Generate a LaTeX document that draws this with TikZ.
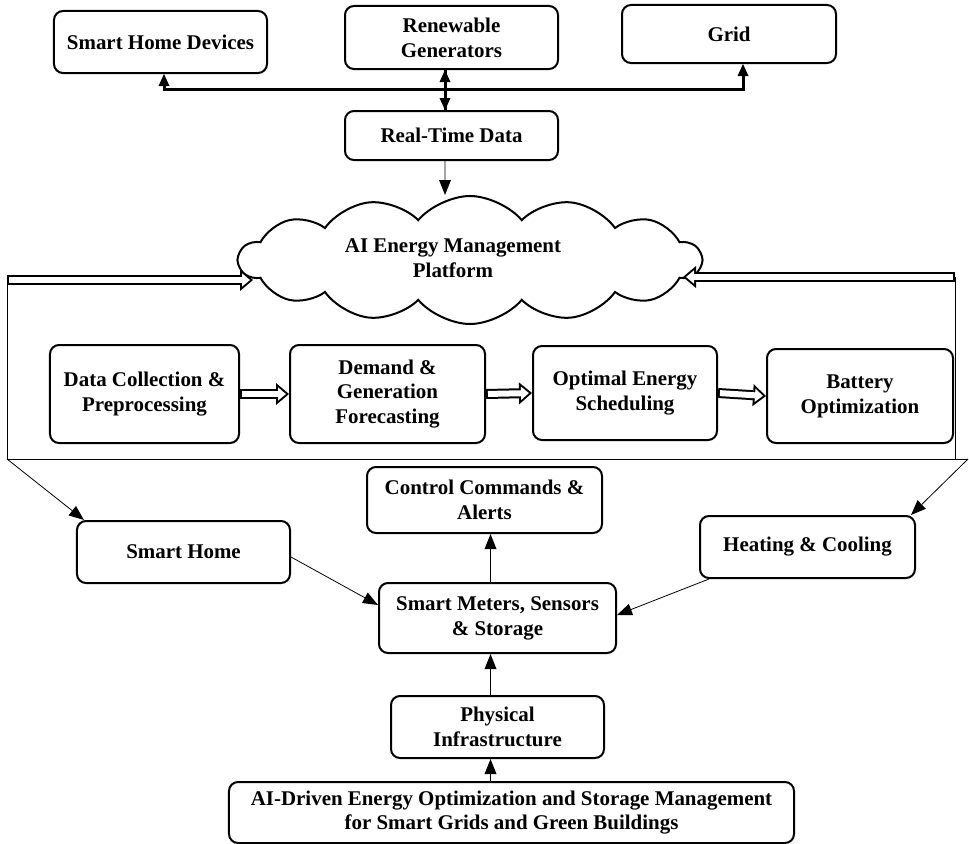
\documentclass[tikz,border=0pt]{standalone}
\usepackage{fontspec}
\setmainfont{Liberation Serif}
\usetikzlibrary{shapes,arrows.meta,positioning}

\newcommand{\hollowarrow}[2]{%
  \draw[line width=10bp,-{Triangle[length=13bp,width=22bp,line width=0pt]}] #1 -- #2;
  \draw[line width=6bp,white,shorten <=2bp,shorten >=3.1bp,
    -{Triangle[length=7.9bp,width=13.4bp,line width=0pt]}] #1 -- #2;}

\begin{document}
\begin{tikzpicture}[x=1bp, y=-1bp,
  txt/.style={align=center, font=\fontsize{21}{25}\selectfont\bfseries},
  box/.style={txt, draw, rounded corners=9bp, line width=2bp, inner sep=0pt},
  conn/.style={line width=0.8bp, -{Triangle[length=15bp,width=12bp,line width=0pt]}},
  bus/.style={line width=3bp},
  tip/.style={-{Triangle[length=12bp,width=11bp,line width=0pt]}},
  frame/.style={line width=0.8bp}]
  \useasboundingbox (0,0) rectangle (969,844);

  \node[box, minimum width=213bp, minimum height=62bp] (shd) at (160.5,42) {Smart Home Devices};
  \node[box, minimum width=213bp, minimum height=63bp] (ren) at (451.5,37.5) {Renewable\\Generators};
  \node[box, minimum width=214bp, minimum height=58bp] (grid) at (729,34) {Grid};
  \node[box, minimum width=213bp, minimum height=49bp, below=40bp of ren] (rtd) {Real-Time Data};

  \node[cloud, draw, line width=2bp, cloud puffs=14, cloud puff arc=100, cloud ignores aspect,
    minimum width=462bp, minimum height=128bp, inner sep=0pt] (cloud) at (470,260) {};
  \node[txt] (ai) at (453,258) {AI Energy Management\\Platform};

  \node[box, minimum width=189bp, minimum height=98bp] (dcp) at (144.5,394) {Data Collection \&\\Preprocessing};
  \node[box, minimum width=195bp, minimum height=98bp] (dgf) at (387.5,394) {Demand \&\\Generation\\Forecasting};
  \node[box, minimum width=184bp, minimum height=94bp] (oes) at (625,393) {Optimal Energy\\Scheduling};
  \node[box, minimum width=186bp, minimum height=94bp] (bo) at (860,396) {Battery\\Optimization};

  \node[box, minimum width=235bp, minimum height=66bp] (ctrl) at (484.5,500) {Control Commands \&\\Alerts};
  \node[box, minimum width=213bp, minimum height=62bp] (sh) at (183.5,552) {Smart Home};
  \node[box, minimum width=215bp, minimum height=62bp] (hc) at (807.5,547) {Heating \& Cooling};
  \node[box, minimum width=237bp, minimum height=70bp] (smt) at (497.5,618) {Smart Meters, Sensors\\\& Storage};
  \node[box, minimum width=213bp, minimum height=62bp, below=41bp of smt] (phy) {Physical\\Infrastructure};
  \node[box, minimum width=565bp, minimum height=61bp] (goal) at (511.5,812.5)
    {AI-Driven Energy Optimization and Storage Management\\for Smart Grids and Green Buildings};

  \coordinate (hub) at (445,89);
  \coordinate (lt) at (7,280);
  \coordinate (rt) at (955,277);
  \coordinate (lb) at (7,459);
  \coordinate (rb) at (968,459);

  \draw[bus, tip] (hub) -| ([xshift=3.5bp]shd.south);
  \draw[bus, tip] (hub) -| ([xshift=14bp]grid.south);
  \draw[bus, tip] ([xshift=-6.5bp]rtd.north) -- ([xshift=-6.5bp]ren.south);
  \draw[bus, tip] ([xshift=-6.5bp]ren.south) -- ([xshift=-6.5bp]rtd.north);
  \draw[conn] ([xshift=-6.5bp]rtd.south) -- (445,195);

  \hollowarrow{(lt)}{(253,280)}
  \hollowarrow{(rt)}{(683,277)}
  \hollowarrow{(dcp.east)}{(dgf.west)}
  \hollowarrow{(dgf.east)}{(oes.west)}
  \hollowarrow{(oes.east)}{(bo.west)}

  \draw[frame] (lt) -- (lb) -- (rb);
  \draw[frame] (rt) -- (rt |- rb);
  \draw[conn] (lb) -- ([xshift=8bp]sh.north west);
  \draw[conn] (rb) -- ([xshift=-5bp]hc.north east);

  \draw[conn] ([yshift=-5bp]sh.east) -- ([yshift=13bp]smt.west);
  \draw[conn] ([xshift=10bp]hc.south west) -- ([yshift=3bp]smt.east);
  \draw[conn] ([xshift=-7bp]smt.north) -- ([xshift=-7bp]smt.north |- ctrl.south);
  \draw[conn] ([xshift=-7bp]phy.north) -- ([xshift=-7bp]phy.north |- smt.south);
  \draw[conn] ([xshift=-7bp]phy.south |- goal.north) -- ([xshift=-7bp]phy.south);
\end{tikzpicture}
\end{document}
